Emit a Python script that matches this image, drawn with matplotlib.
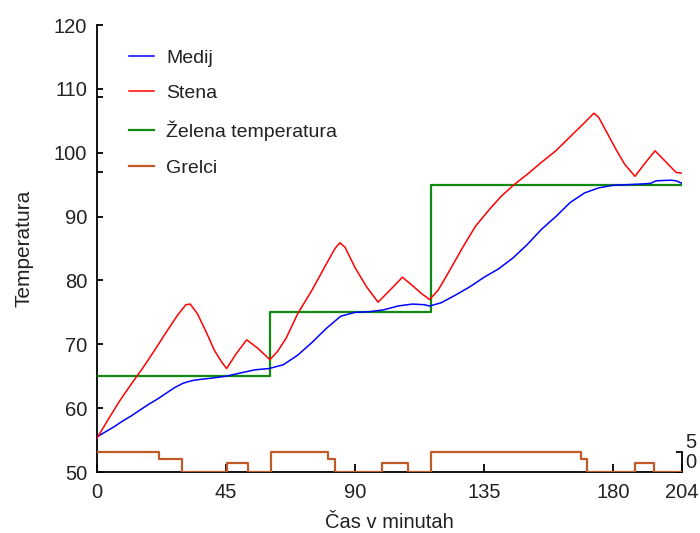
import matplotlib
matplotlib.use("Agg")
import matplotlib.pyplot as plt

# Time axis (minutes) and temperatures
medij_t = [0, 3, 6, 9, 12, 15, 18, 21, 24, 27, 30, 33, 36, 40, 45, 50, 55, 60,
           65, 70, 75, 80, 85, 90, 95, 100, 105, 110, 114, 116,
           120, 125, 130, 135, 140, 145, 150, 155, 160, 165, 170, 175, 180,
           185, 190, 193, 195, 200, 202, 204]
medij_v = [55.5, 56.3, 57.1, 58.0, 58.8, 59.7, 60.6, 61.4, 62.3, 63.2, 63.9, 64.3, 64.5, 64.7, 65.0, 65.5, 66.0, 66.2,
           66.8, 68.3, 70.3, 72.5, 74.4, 75.0, 75.1, 75.4, 76.0, 76.3, 76.2, 76.0,
           76.5, 77.7, 79.0, 80.5, 81.8, 83.5, 85.6, 88.0, 90.0, 92.2, 93.7, 94.5, 94.9,
           95.0, 95.1, 95.2, 95.6, 95.7, 95.6, 95.2]

stena_t = [0, 4, 8, 12, 16, 20, 24, 28, 31, 32.5, 35, 38, 41, 43.5, 45.2, 48.5, 52.2, 56, 60.3,
           63, 66, 70, 75, 80, 83, 84.7, 86.5, 90, 94, 98, 102, 106.5, 110, 113, 116,
           119, 122, 127.7, 132, 137, 141, 145.7, 150, 155, 160, 165, 170, 173.3,
           175, 178, 181, 184, 187.6, 191, 194.6, 197, 200, 202, 204]
stena_v = [55.3, 58.3, 61.2, 63.8, 66.3, 69.0, 71.8, 74.5, 76.2, 76.3, 74.8, 72.0, 69.0, 67.2, 66.2, 68.5, 70.7, 69.4, 67.6,
           68.9, 71.0, 74.8, 78.5, 82.6, 85.0, 85.9, 85.2, 82.0, 79.0, 76.6, 78.4, 80.5, 79.2, 78.0, 77.0,
           78.5, 80.8, 85.3, 88.5, 91.2, 93.2, 95.1, 96.6, 98.5, 100.3, 102.5, 104.7, 106.2,
           105.5, 103.0, 100.5, 98.2, 96.3, 98.3, 100.3, 99.2, 97.8, 96.9, 96.8]

# Setpoint (desired temperature) as a step function
zelena_t = [0, 60.5, 116.3, 204]
zelena_v = [65, 75, 95, 95]

# Heater power levels (right-hand scale 0..5)
grelci_t = [0, 21.7, 29.5, 45.2, 52.8, 60.7, 80.7, 83.0, 99.3, 108.5, 116.5,
            168.8, 171.0, 187.6, 194.2, 204]
grelci_v = [5, 3.3, 0, 2.2, 0, 5, 3.3, 0, 2.2, 0, 5, 3.3, 0, 2.2, 0, 0]

x_ticks = [0, 45, 90, 135, 180, 204]
y_ticks = [50, 60, 70, 80, 90, 100, 110, 120]
y_minor = [97, 108.7]

plt.rcParams['font.family'] = ['Liberation Sans', 'DejaVu Sans']

fig = plt.figure(figsize=(7.0, 5.33), dpi=100)
W, H = 700, 533
left, right, top, bottom = 97, 682, 25, 472
ax = fig.add_axes([left / W, 1 - bottom / H, (right - left) / W, (bottom - top) / H])

ax.plot(medij_t, medij_v, color='#0000ff', lw=1.1, label='Medij', zorder=4)
ax.plot(stena_t, stena_v, color='#ff0000', lw=1.1, label='Stena', zorder=4)
ax.step(zelena_t, zelena_v, where='post', color='#108a10', lw=1.6,
        label='Želena temperatura', zorder=3)
ax.plot([], [], color='#c05a28', lw=1.6, label='Grelci')

ax.set_xlim(0, 204)
ax.set_ylim(50, 120)
ax.spines['top'].set_visible(False)
ax.spines['right'].set_visible(False)
for s in ('left', 'bottom'):
    ax.spines[s].set_linewidth(1.3)
    ax.spines[s].set_zorder(2)

ax.set_xticks(x_ticks)
ax.set_xticklabels([str(v) for v in x_ticks])
ax.set_yticks(y_ticks)
ax.set_yticklabels([str(v) for v in y_ticks])
ax.set_yticks(y_minor, minor=True)
ax.tick_params(axis='both', which='major', direction='in', labelsize=14.5,
               width=1.3, labelcolor='#222222')
ax.tick_params(axis='x', which='major', length=6, pad=8)
ax.tick_params(axis='y', which='major', length=4, pad=7)
ax.tick_params(axis='y', which='minor', direction='in', length=4, width=1.3)
for tk, v in zip(ax.yaxis.get_major_ticks(), y_ticks):
    if v in (100, 110):
        tk.tick1line.set_visible(False)

ax.set_xlabel('Čas v minutah', fontsize=14.5, labelpad=8, color='#222222')
ax.set_ylabel('Temperatura', fontsize=15, labelpad=15, color='#222222')

# Heater scale on a second axis sharing the time axis
ax2 = ax.twinx()
ax2.step(grelci_t, grelci_v, where='post', color='#c05a28', lw=1.6, zorder=5)
ax2.set_ylim(0, 5 * (bottom - top) / 20.0)
for s in ('top', 'left', 'bottom'):
    ax2.spines[s].set_visible(False)
ax2.spines['right'].set_bounds(0, 5)
ax2.spines['right'].set_linewidth(1.3)
ax2.set_yticks([0, 5])
ax2.set_yticklabels(['0', '5'])
ax2.tick_params(axis='y', direction='in', length=4, width=1.3, labelsize=14.5,
                pad=2, labelcolor='#222222')
for lbl in ax2.get_yticklabels():
    lbl.set_verticalalignment('bottom')

leg = ax.legend(loc='upper left', bbox_to_anchor=(129 / W, 1 - 49 / H),
                bbox_transform=fig.transFigure, frameon=False, fontsize=14,
                labelspacing=0.93, handlelength=1.3, handletextpad=0.6,
                borderpad=0, borderaxespad=0)
for txt in leg.get_texts():
    txt.set_color('#222222')

fig.savefig('out.png', dpi=100)
